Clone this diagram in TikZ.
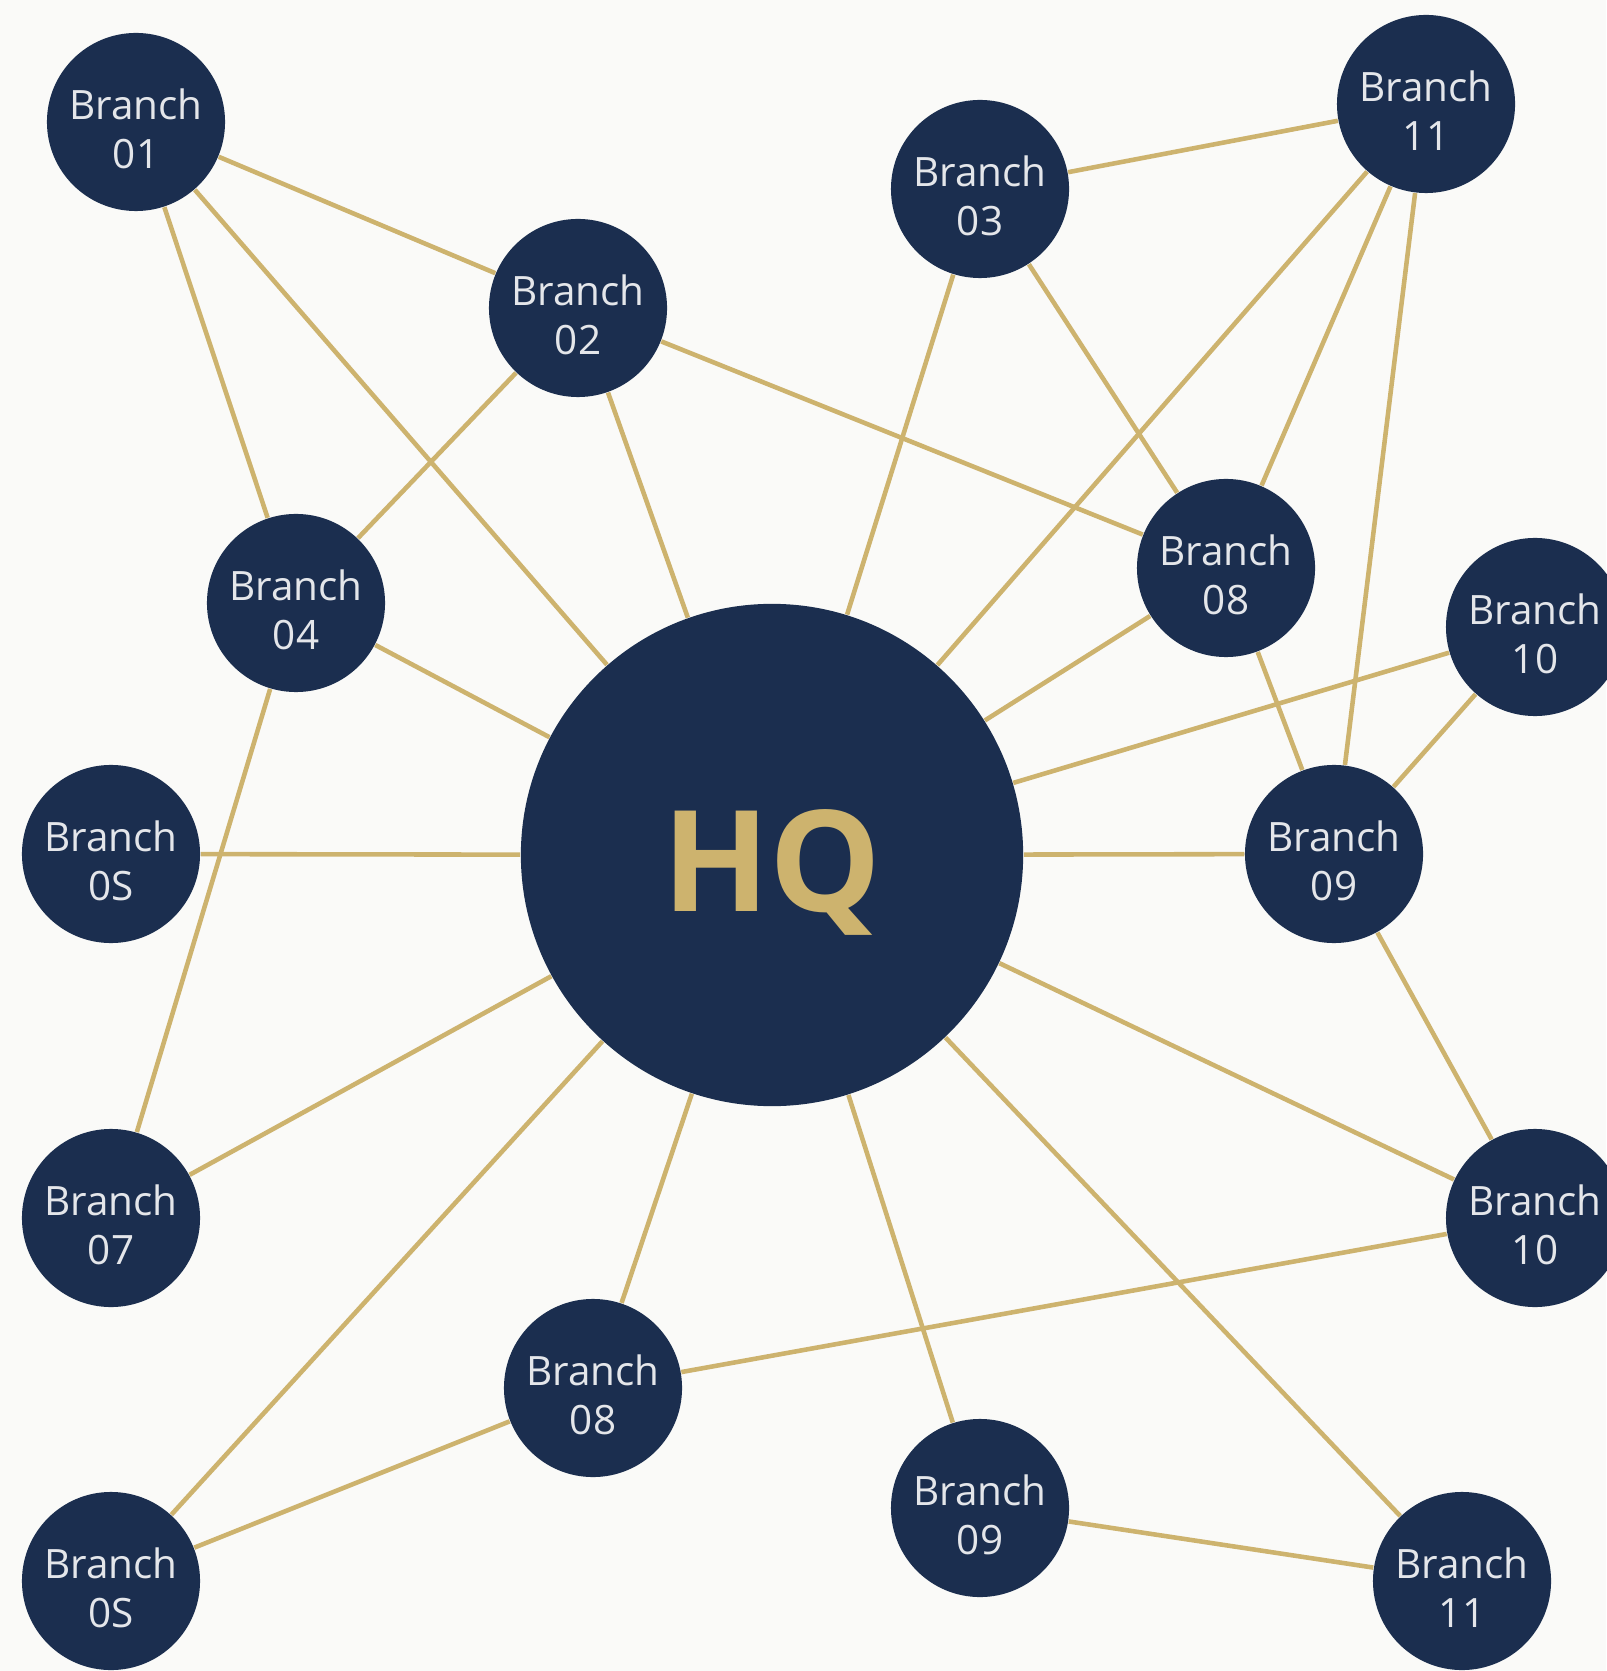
\documentclass[tikz,border=0pt]{standalone}
\usepackage{fontspec}
\setmainfont{Open Sans}
\usepackage{xcolor}
\usepackage{tikz}
\usetikzlibrary{backgrounds}
\definecolor{navy}{HTML}{1B2E4F}
\definecolor{gold}{HTML}{CDB36E}
\definecolor{paper}{HTML}{FAFAF8}
\tikzset{br/.style={circle,fill=navy,minimum size=1.78cm,inner sep=0pt,align=center,
    text=white!88!navy,font=\fontsize{11.5}{14}\selectfont,
    text height=26.6pt,text depth=0pt},
  hub/.style={circle,fill=navy,minimum size=5.02cm,inner sep=0pt,text=gold,
    text height=32pt,text depth=0pt,
    font=\fontsize{40}{40}\selectfont\bfseries},
  link/.style={gold,line width=1.3pt}}

\begin{document}
\begin{tikzpicture}[x=0.01cm,y=-0.01cm]
        \useasboundingbox (0,0) rectangle (1606,1671);
        \node[hub] (hq)at (772,855) {HQ};
        \node[br] (a)at (136,122) {Branch\\01};
        \node[br] (b)at (578,308) {Branch\\02};
        \node[br] (c)at (980,189) {Branch\\03};
        \node[br] (d)at (1426,104) {Branch\\11};
        \node[br] (e)at (296,603) {Branch\\04};
        \node[br] (f)at (1226,568) {Branch\\08};
        \node[br] (g)at (1535,627) {Branch\\10};
        \node[br] (h)at (111,854) {Branch\\0S};
        \node[br] (i)at (1334,854) {Branch\\09};
        \node[br] (j)at (111,1218) {Branch\\07};
        \node[br] (k)at (1535,1218) {Branch\\10};
        \node[br] (l)at (593,1388) {Branch\\08};
        \node[br] (m)at (980,1508) {Branch\\09};
        \node[br] (n)at (111,1581) {Branch\\0S};
        \node[br] (o)at (1462,1581) {Branch\\11};

        \begin{scope}[on background layer]
        \fill [paper] (0,0) rectangle (1606,1671);
        \draw [link] (a) to (b);
        \draw [link] (a) to (e);
        \draw [link] (a) to (hq);
        \draw [link] (b) to (e);
        \draw [link] (b) to (hq);
        \draw [link] (b) to (f);
        \draw [link] (c) to (d);
        \draw [link] (c) to (hq);
        \draw [link] (c) to (f);
        \draw [link] (d) to (hq);
        \draw [link] (d) to (f);
        \draw [link] (d) to (i);
        \draw [link] (e) to (hq);
        \draw [link] (e) to (j);
        \draw [link] (f) to (hq);
        \draw [link] (f) to (i);
        \draw [link] (g) to (hq);
        \draw [link] (g) to (i);
        \draw [link] (h) to (hq);
        \draw [link] (i) to (hq);
        \draw [link] (i) to (k);
        \draw [link] (hq) to (j);
        \draw [link] (hq) to (n);
        \draw [link] (hq) to (l);
        \draw [link] (hq) to (m);
        \draw [link] (hq) to (o);
        \draw [link] (hq) to (k);
        \draw [link] (l) to (k);
        \draw [link] (l) to (n);
        \draw [link] (m) to (o);
        \end{scope}
    \end{tikzpicture}
\end{document}
